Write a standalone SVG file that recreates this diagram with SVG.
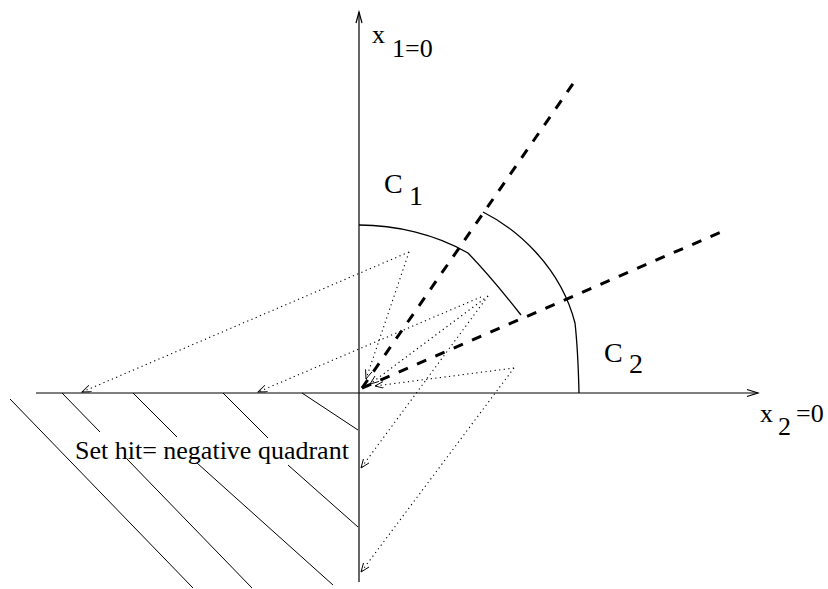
<svg xmlns="http://www.w3.org/2000/svg" width="828" height="589" viewBox="0 0 828 589">
<style>
  .axis{stroke:#000;stroke-width:1.2;fill:none}
  .arc{stroke:#000;stroke-width:1.3;fill:none}
  .ray{stroke:#000;stroke-width:3;fill:none;stroke-dasharray:10 10}
  .hatch{stroke:#000;stroke-width:1;fill:none}
  .dot{stroke:#000;stroke-width:1.1;fill:none;stroke-dasharray:1.2 3.4;marker-end:url(#vhead)}
  .lbl{font-family:"Liberation Serif","Times New Roman",serif;fill:#000}
</style>
<defs>
  <marker id="vhead" markerUnits="userSpaceOnUse" markerWidth="12" markerHeight="10" refX="9" refY="3.5" orient="auto">
    <path d="M0,0 L9,3.5 L0,7" fill="none" stroke="#000" stroke-width="0.9" stroke-dasharray="none"/>
  </marker>
</defs>
<rect width="828" height="589" fill="#fff"/>
<g id="axes">
  <line class="axis" x1="359" y1="582" x2="359" y2="12"/>
  <path class="axis" d="M356,23 L359,12 L362,23"/>
  <line class="axis" x1="36" y1="393" x2="758" y2="393"/>
  <path class="axis" d="M747,389.5 L758,393 L747,396.5"/>
</g>
<g id="hatching">
  <line class="hatch" x1="10" y1="399" x2="193" y2="588"/>
  <line class="hatch" x1="62" y1="393" x2="100" y2="432"/>
  <line class="hatch" x1="127" y1="459" x2="252" y2="588"/>
  <line class="hatch" x1="133" y1="393" x2="177" y2="437"/>
  <line class="hatch" x1="197" y1="463" x2="333" y2="585"/>
  <line class="hatch" x1="223" y1="393" x2="268" y2="438"/>
  <line class="hatch" x1="288" y1="465" x2="358" y2="527"/>
  <line class="hatch" x1="302" y1="393" x2="358" y2="430"/>
</g>
<g id="cone-arcs">
  <path id="C1-arc" class="arc" d="M359,225 C395,225 435,234 468,253 Q492,278 521,315"/>
  <path id="C2-arc" class="arc" d="M483,212 C515,228 560,265 575,323 Q578,350 579,393"/>
</g>
<g id="rays">
  <line class="ray" x1="362" y1="388" x2="577" y2="78"/>
  <line class="ray" x1="362" y1="388" x2="721" y2="232"/>
</g>
<g id="connectors">
  <line class="dot" x1="409" y1="252" x2="82" y2="392"/>
  <line class="dot" x1="409" y1="252" x2="366" y2="379"/>
  <line class="dot" x1="481" y1="297" x2="258" y2="392"/>
  <line class="dot" x1="488" y1="296" x2="370" y2="384"/>
  <line class="dot" x1="488" y1="296" x2="361" y2="468"/>
  <line class="dot" x1="514" y1="368" x2="375" y2="386"/>
  <line class="dot" x1="514" y1="368" x2="361" y2="572"/>
</g>
<g id="labels">
  <g id="label-x1">
    <text class="lbl" x="372" y="43" font-size="26">x</text>
    <text class="lbl" x="392" y="57" font-size="26">1=0</text>
  </g>
  <g id="label-x2">
    <text class="lbl" x="760" y="422" font-size="26">x</text>
    <text class="lbl" x="778" y="435" font-size="26">2</text>
    <text class="lbl" x="796" y="422" font-size="26">=0</text>
  </g>
  <g id="label-C1">
    <text class="lbl" x="384" y="193" font-size="28">C</text>
    <text class="lbl" x="409" y="205" font-size="28">1</text>
  </g>
  <g id="label-C2">
    <text class="lbl" x="604" y="362" font-size="28">C</text>
    <text class="lbl" x="629" y="373" font-size="28">2</text>
  </g>
  <text id="label-set" class="lbl" x="75" y="459" font-size="26">Set hit= negative quadrant</text>
</g>
</svg>
